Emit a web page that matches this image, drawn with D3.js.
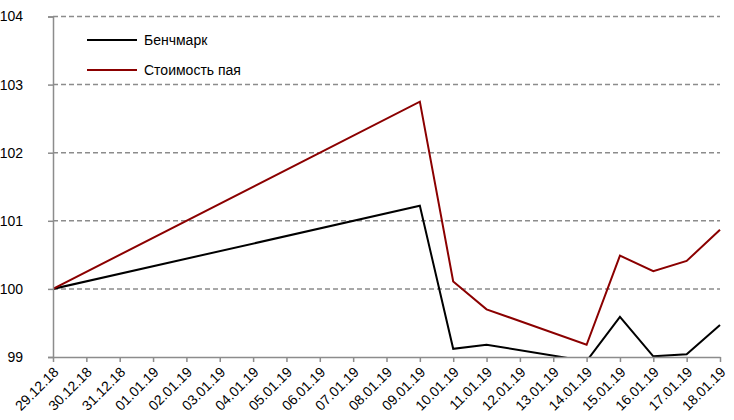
<!DOCTYPE html>
<html><head><meta charset="utf-8">
<script src="https://cdn.jsdelivr.net/npm/d3@7"></script>
<style>body{margin:0;background:#fff}svg{display:block;font-family:"Liberation Sans",Arial,sans-serif}</style>
</head><body><svg id="c" width="734" height="420"></svg>
<script>
const categories = ["29.12.18","30.12.18","31.12.18","01.01.19","02.01.19","03.01.19","04.01.19","05.01.19","06.01.19","07.01.19","08.01.19","09.01.19","10.01.19","11.01.19","12.01.19","13.01.19","14.01.19","15.01.19","16.01.19","17.01.19","18.01.19"];
const benchmark = [100,null,null,null,null,null,null,null,null,null,null,101.22,99.12,99.18,null,null,98.94,99.59,99.01,99.04,99.47];
const unitValue = [100,null,null,null,null,null,null,null,null,null,null,102.75,100.11,99.70,null,null,99.18,100.49,100.26,100.41,100.87];
const yTicks = [99,100,101,102,103,104];
const seriesNames = ["Бенчмарк","Стоимость пая"];
const seriesColors = ["#000000","#8B0000"];

const svg = d3.select("#c");
const x = d3.scalePoint().domain(categories).range([53,720]);
const y = d3.scaleLinear().domain([99,104]).range([357,16.5]);

// grid
svg.append("g").selectAll("line").data(yTicks.filter(t=>t>99)).join("line")
  .attr("x1",53).attr("x2",720).attr("y1",d=>y(d)).attr("y2",d=>y(d))
  .attr("stroke","#8c8c8c").attr("stroke-width",1.5).attr("stroke-dasharray","5,3");

// clip
svg.append("clipPath").attr("id","clip").append("rect").attr("x",53).attr("y",0).attr("width",680).attr("height",357);

const series = [benchmark, unitValue];
const line = d3.line().x(d=>x(d.c)).y(d=>y(d.v));
series.forEach((s,i)=>{
  const pts = categories.map((c,j)=>({c,v:s[j]})).filter(d=>d.v!=null);
  svg.append("path").attr("d",line(pts)).attr("fill","none")
    .attr("stroke",seriesColors[i]).attr("stroke-width",2).attr("clip-path","url(#clip)")
    .attr("stroke-linejoin","miter");
});

// y axis
const ya = svg.append("g").attr("transform","translate(53,0)")
  .call(d3.axisLeft(y).tickValues(yTicks).tickSize(5).tickPadding(25).tickFormat(d3.format("d")));
ya.select(".domain").attr("stroke","#8c8c8c").attr("stroke-width",1.5);
ya.selectAll(".tick line").attr("stroke","#8c8c8c").attr("stroke-width",1.5);
ya.selectAll("text").attr("font-size",14).attr("fill","#000").attr("font-family","Liberation Sans, Arial, sans-serif");

// x axis
const xa = svg.append("g").attr("transform","translate(0,357)")
  .call(d3.axisBottom(x).tickSize(5).tickSizeOuter(0));
xa.select(".domain").attr("stroke","#8c8c8c").attr("stroke-width",1.5);
xa.selectAll(".tick line").attr("stroke","#8c8c8c").attr("stroke-width",1.5);
xa.selectAll("text").attr("font-size",14).attr("fill","#000").attr("font-family","Liberation Sans, Arial, sans-serif")
  .attr("text-anchor","end").attr("dy",0).attr("y",0)
  .attr("transform","translate(6,16) rotate(-45)");

// legend
const lg = svg.append("g");
seriesNames.forEach((n,i)=>{
  const yy = 40 + i*30;
  lg.append("line").attr("x1",87).attr("x2",137).attr("y1",yy).attr("y2",yy).attr("stroke",seriesColors[i]).attr("stroke-width",2);
  lg.append("text").attr("x",144).attr("y",yy+5).attr("font-size",14).text(n);
});
</script></body></html>
